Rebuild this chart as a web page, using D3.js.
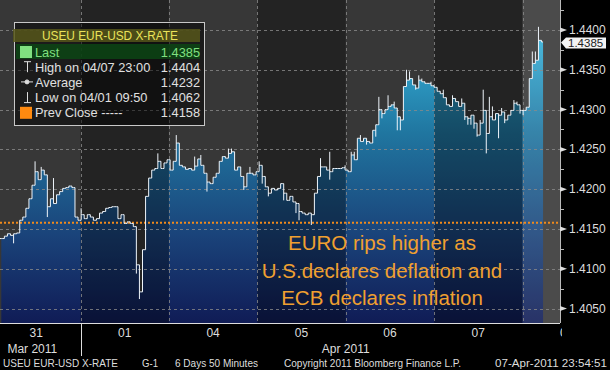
<!DOCTYPE html>
<html>
<head>
<meta charset="utf-8">
<script src="https://cdn.jsdelivr.net/npm/d3@7"></script>
<style>
  body { margin: 0; background: #000; }
  svg { display: block; font-family: "Liberation Sans", Arial, sans-serif; }
</style>
</head>
<body>
<div id="chart"></div>
<script>
// EUR-USD 50 minute bars, closes
const closes = [
  1.4138, 1.4141, 1.4144, 1.4142, 1.4144, 1.4145, 1.4161, 1.4165, 1.4176, 1.4188,
  1.4205, 1.4222, 1.4212, 1.4224, 1.4218, 1.4178, 1.4188, 1.4182, 1.4193, 1.4197,
  1.4201, 1.4202, 1.4204, 1.4202, 1.4165, 1.4161, 1.4168, 1.4163, 1.4168, 1.4165,
  1.4161, 1.4163, 1.4170, 1.4172, 1.4176, 1.4177,
  1.4178, 1.4178, 1.4163, 1.4168, 1.4157, 1.4159, 1.4157, 1.4153, 1.4105, 1.4071,
  1.4124, 1.4191, 1.4214, 1.4224, 1.4226, 1.4235, 1.4226, 1.4233, 1.4237, 1.4224,
  1.4235, 1.4258, 1.4230, 1.4228, 1.4225, 1.4226, 1.4224, 1.4229, 1.4238, 1.4230,
  1.4220, 1.4209, 1.4207, 1.4215, 1.4220, 1.4235,
  1.4241, 1.4239, 1.4245, 1.4247, 1.4224, 1.4228, 1.4216, 1.4203, 1.4220, 1.4220,
  1.4218, 1.4222, 1.4230, 1.4216, 1.4203, 1.4195, 1.4201, 1.4199, 1.4201, 1.4207,
  1.4195, 1.4186, 1.4191, 1.4184, 1.4182, 1.4172, 1.4170, 1.4168, 1.4170, 1.4168,
  1.4195, 1.4216, 1.4228, 1.4228, 1.4224,
  1.4222, 1.4226, 1.4226, 1.4226, 1.4227, 1.4224, 1.4222, 1.4243, 1.4237, 1.4264,
  1.4260, 1.4264, 1.4260, 1.4258, 1.4274, 1.4281, 1.4300, 1.4295, 1.4300, 1.4304,
  1.4306, 1.4302, 1.4291, 1.4287, 1.4329, 1.4337, 1.4339, 1.4331, 1.4327, 1.4337,
  1.4335, 1.4333, 1.4333, 1.4330, 1.4328, 1.4323, 1.4320,
  1.4315, 1.4306, 1.4304, 1.4314, 1.4310, 1.4304, 1.4308, 1.4291, 1.4289, 1.4293,
  1.4283, 1.4268, 1.4283, 1.4299, 1.4270, 1.4291, 1.4287, 1.4295, 1.4293, 1.4297,
  1.4287, 1.4293, 1.4299, 1.4308, 1.4306, 1.4299, 1.4299, 1.4303, 1.4339, 1.4358,
  1.4362, 1.4387, 1.4385
];

// [bar, high, low] where the bar's range goes past its open/close
const spikes = [
  [4, null, 1.4132], [11, 1.4235, null], [13, 1.4228, null], [15, null, 1.4165],
  [17, 1.4214, null], [26, 1.4176, null], [44, null, 1.4094], [45, null, 1.4062],
  [51, 1.4245, null], [57, 1.4268, null], [63, 1.4241, null], [65, 1.4243, null],
  [67, null, 1.4197], [74, 1.4251, null], [75, 1.4251, null], [79, null, 1.4199],
  [81, 1.4228, null], [84, 1.4235, null], [85, null, 1.4207], [87, null, 1.4191],
  [92, null, 1.4186], [96, null, 1.4170], [97, null, 1.4161], [101, null, 1.4155],
  [104, 1.4239, null], [107, 1.4247, 1.4212], [112, 1.4230, null], [114, 1.4247, null],
  [115, 1.4247, null], [117, 1.4268, null], [119, null, 1.4256], [122, null, 1.4266],
  [123, 1.4316, null], [124, null, 1.4289], [126, 1.4318, null], [128, 1.4310, null],
  [129, null, 1.4274], [130, null, 1.4274], [132, 1.4350, null], [133, 1.4348, null],
  [135, null, 1.4325], [136, 1.4343, null], [137, 1.4339, null], [140, 1.4335, null],
  [144, 1.4325, null], [147, 1.4318, null], [150, 1.4314, null], [151, null, 1.4287],
  [152, null, 1.4281], [153, null, 1.4281], [154, null, 1.4276], [155, null, 1.4266],
  [156, 1.4287, null], [157, 1.4325, null], [158, null, 1.4245], [159, 1.4316, null],
  [160, 1.4304, null], [162, null, 1.4264], [163, 1.4302, null], [164, null, 1.4283],
  [167, 1.4312, null], [168, 1.4310, null], [169, null, 1.4295], [170, null, 1.4293],
  [173, 1.4373, null], [174, 1.4373, null], [175, 1.4404, null]
];

const days = ['31', '01', '04', '05', '06', '07', '08'];
const months = [
  { label: 'Mar 2011', first: 0, last: 0 },
  { label: 'Apr 2011', first: 1, last: 6 }
];
const majorTicks = [1.405, 1.41, 1.415, 1.42, 1.425, 1.43, 1.435, 1.44];
const minorTicks = [1.4075, 1.4125, 1.4175, 1.4225, 1.4275, 1.4325, 1.4375, 1.4425];
const prevClose = 1.4158;
const lastPrice = 1.4385;

const legendTitle = 'USEU  EUR-USD X-RATE';
const legendLabels = ['Last', 'High on 04/07 23:00', 'Average', 'Low on 04/01 09:50', 'Prev Close -----'];
const legendValues = ['1.4385', '1.4404', '1.4232', '1.4062', '1.4158'];

// footer pieces: left edge and width of each run of text
const footer = [
  { text: 'USEU  EUR-USD X-RATE', x: 3, w: 115 },
  { text: 'G-1', x: 142, w: 16 },
  { text: '6 Days  50 Minutes', x: 175, w: 83 },
  { text: 'Copyright 2011 Bloomberg Finance L.P.', x: 284, w: 177 },
  { text: '07-Apr-2011 23:54:51', x: 495, w: 112 }
];
const note = ['EURO rips higher as', 'U.S.declares deflation and', 'ECB declares inflation'];

const barStart = 2.5;      // hours into the first day
const barHours = 50 / 60;

const W = 610, H = 370;
const plotW = 560, plotH = 323;

const svg = d3.select('#chart')
  .append('svg')
  .attr('width', W)
  .attr('height', H);

svg.append('rect').attr('width', W).attr('height', H).attr('fill', '#000');

const x = d3.scaleLinear().domain([0, days.length * 24]).range([-7.9, -7.9 + days.length * 88.4]);
const y = d3.scaleLinear().domain([1.405, 1.44]).range([308.6, 30]);

const defs = svg.append('defs');
defs.append('clipPath').attr('id', 'plot')
  .append('rect').attr('width', plotW).attr('height', plotH);
defs.append('clipPath').attr('id', 'xlab')
  .append('rect').attr('width', 562).attr('height', H);

const grad = defs.append('linearGradient')
  .attr('id', 'fill')
  .attr('gradientUnits', 'userSpaceOnUse')
  .attr('x1', 0).attr('x2', 0)
  .attr('y1', 30).attr('y2', plotH);
grad.append('stop').attr('offset', 0).attr('stop-color', '#36b4dc');
grad.append('stop').attr('offset', 0.35).attr('stop-color', '#2076a0');
grad.append('stop').attr('offset', 0.7).attr('stop-color', '#1a437a');
grad.append('stop').attr('offset', 1).attr('stop-color', '#101c56');

const g = svg.append('g').attr('clip-path', 'url(#plot)');

// background
g.append('rect').attr('width', plotW).attr('height', plotH).attr('fill', '#373737');

// bars
const spikeMap = new Map(spikes.map((s) => [s[0], s]));
const bars = closes.map((c, i) => {
  const open = i > 0 ? closes[i - 1] : c;
  const s = spikeMap.get(i);
  return {
    t: barStart + i * barHours,
    open: open,
    close: c,
    high: Math.max(open, c, s && s[1] ? s[1] : 0),
    low: Math.min(open, c, s && s[2] ? s[2] : 9)
  };
});

const area = d3.area()
  .x((d) => x(d.t))
  .y0(plotH)
  .y1((d) => y(d.close))
  .curve(d3.curveStepAfter);

const areaData = bars.concat([{ t: bars[bars.length - 1].t + barHours / 2, close: lastPrice }]);

g.append('path')
  .datum(areaData)
  .attr('d', area)
  .attr('fill', 'url(#fill)');

// day shading
g.selectAll('.shade')
  .data(days)
  .enter()
  .append('rect')
  .attr('x', (d, i) => x(i * 24))
  .attr('width', x(24) - x(0))
  .attr('y', 0)
  .attr('height', plotH)
  .attr('fill', (d, i) => i === 6 ? '#fff' : '#000')
  .attr('opacity', (d, i) => i === 6 ? 0.1 : (i % 2 ? 0.36 : 0));

// grid
g.selectAll('.hgrid')
  .data(majorTicks)
  .enter()
  .append('line')
  .attr('x1', 0).attr('x2', plotW)
  .attr('y1', (d) => Math.round(y(d)) + 0.5)
  .attr('y2', (d) => Math.round(y(d)) + 0.5)
  .attr('stroke', '#8a8a8a')
  .attr('stroke-opacity', 0.8)
  .attr('stroke-dasharray', '3,3');

g.selectAll('.vgrid')
  .data(d3.range(1, days.length))
  .enter()
  .append('line')
  .attr('x1', (d) => Math.round(x(d * 24)) + 0.5)
  .attr('x2', (d) => Math.round(x(d * 24)) + 0.5)
  .attr('y1', 0).attr('y2', plotH)
  .attr('stroke', '#8a8a8a')
  .attr('stroke-opacity', 0.8)
  .attr('stroke-dasharray', '3,3');

// previous close
g.append('line')
  .attr('x1', 0).attr('x2', plotW)
  .attr('y1', y(prevClose)).attr('y2', y(prevClose))
  .attr('stroke', '#f08a1c')
  .attr('stroke-width', 2)
  .attr('stroke-dasharray', '2,2');

g.append('path')
  .attr('d', bars.map((d) => {
    const cx = x(d.t);
    return 'M' + (cx - 1.5) + ',' + y(d.open) + 'H' + cx +
      'M' + cx + ',' + y(d.high) + 'V' + y(d.low) +
      'M' + cx + ',' + y(d.close) + 'H' + (cx + 1.5);
  }).join(''))
  .attr('fill', 'none')
  .attr('stroke', '#eef4fa')
  .attr('stroke-width', 1);

// annotation
g.selectAll('.note')
  .data(note)
  .enter()
  .append('text')
  .attr('x', 382)
  .attr('y', (d, i) => 250 + i * 27.5)
  .attr('text-anchor', 'middle')
  .attr('font-size', '20.5px')
  .attr('fill', '#f0a030')
  .text((d) => d);

// right axis
const axisG = svg.append('g').attr('transform', 'translate(' + plotW + ',0)');
axisG.append('line')
  .attr('x1', 0.5).attr('x2', 0.5)
  .attr('y1', 0).attr('y2', plotH)
  .attr('stroke', '#bbb');

axisG.selectAll('.minor')
  .data(minorTicks)
  .enter()
  .append('line')
  .attr('x1', 0).attr('x2', 4)
  .attr('y1', (d) => Math.round(y(d)) + 0.5)
  .attr('y2', (d) => Math.round(y(d)) + 0.5)
  .attr('stroke', '#bbb');

axisG.selectAll('.major')
  .data(majorTicks)
  .enter()
  .append('path')
  .attr('d', (d) => 'M0,' + (y(d) - 2.5) + 'L7,' + y(d) + 'L0,' + (y(d) + 2.5) + 'Z')
  .attr('fill', '#ddd');

axisG.selectAll('.ylab')
  .data(majorTicks)
  .enter()
  .append('text')
  .attr('x', 9)
  .attr('y', (d) => y(d) + 4)
  .attr('font-size', '12px')
  .attr('fill', '#ddd')
  .text((d) => d3.format('.4f')(d));

// last price tag
const ly = y(lastPrice);
axisG.append('path')
  .attr('d', 'M1,' + (ly + 0.5) + 'L6,' + (ly - 4.5) + 'H46V' + (ly + 6.5) + 'H6Z')
  .attr('fill', '#f4f4f4');
axisG.append('text')
  .attr('x', 8)
  .attr('y', ly + 5)
  .attr('font-size', '11.5px')
  .attr('fill', '#222')
  .text(d3.format('.4f')(lastPrice));

// bottom axis
svg.append('line')
  .attr('x1', 0).attr('x2', plotW)
  .attr('y1', plotH + 0.5).attr('y2', plotH + 0.5)
  .attr('stroke', '#ddd');

svg.append('g')
  .attr('clip-path', 'url(#xlab)')
  .selectAll('text')
  .data(days)
  .enter()
  .append('text')
  .attr('x', (d, i) => x(i * 24 + 12))
  .attr('y', 337)
  .attr('text-anchor', 'middle')
  .attr('font-size', '12px')
  .attr('fill', '#ddd')
  .text((d) => d);

svg.selectAll('.month')
  .data(months)
  .enter()
  .append('text')
  .attr('x', (d) => (x(d.first * 24 + 12) + x(d.last * 24 + 12)) / 2 - (d.first === 0 ? 4 : 0))
  .attr('y', 353)
  .attr('text-anchor', 'middle')
  .attr('font-size', '12px')
  .attr('fill', '#ddd')
  .text((d) => d.label);

svg.append('line')
  .attr('x1', Math.round(x(24)) + 0.5).attr('x2', Math.round(x(24)) + 0.5)
  .attr('y1', plotH).attr('y2', 356)
  .attr('stroke', '#ddd');

// footer
svg.selectAll('.foot')
  .data(footer)
  .enter()
  .append('text')
  .attr('x', (d) => d.x)
  .attr('y', 367)
  .attr('font-size', '11px')
  .attr('textLength', (d) => d.w)
  .attr('lengthAdjust', 'spacingAndGlyphs')
  .attr('fill', '#ddd')
  .text((d) => d.text);

// legend
const lg = svg.append('g');
lg.append('rect')
  .attr('x', 14.5).attr('y', 22.5)
  .attr('width', 190).attr('height', 103)
  .attr('fill', '#000')
  .attr('fill-opacity', 0.5)
  .attr('stroke', '#c8c8c8');

lg.append('rect')
  .attr('x', 13).attr('y', 29)
  .attr('width', 187).attr('height', 13)
  .attr('fill', '#56561a')
  .attr('fill-opacity', 0.85);

lg.append('text')
  .attr('x', 42)
  .attr('y', 40)
  .attr('font-size', '12px')
  .attr('textLength', 136)
  .attr('lengthAdjust', 'spacingAndGlyphs')
  .attr('fill', '#eae35a')
  .text(legendTitle);

lg.append('rect')
  .attr('x', 16).attr('y', 44)
  .attr('width', 184).attr('height', 15)
  .attr('fill', '#0c4514')
  .attr('fill-opacity', 0.85);

const rowY = (i) => 52 + i * 15.2;

lg.append('rect')
  .attr('x', 20).attr('y', rowY(0) - 6)
  .attr('width', 12).attr('height', 12)
  .attr('fill', '#80e080');
lg.append('rect')
  .attr('x', 20).attr('y', rowY(4) - 6)
  .attr('width', 12).attr('height', 12)
  .attr('fill', '#ff8a10');

const icon = lg.append('g').attr('stroke', '#ddd').attr('fill', 'none');
icon.append('path').attr('d', 'M24,' + (rowY(1) - 5.5) + 'H31M27.5,' + (rowY(1) - 5.5) + 'V' + (rowY(1) + 5));
icon.append('path').attr('d', 'M21,' + (rowY(2) - 0.5) + 'H33');
icon.append('circle').attr('cx', 27).attr('cy', rowY(2) - 0.5).attr('r', 2).attr('fill', '#ddd');
icon.append('path').attr('d', 'M27.5,' + (rowY(3) - 5.5) + 'V' + (rowY(3) + 5) + 'M24,' + (rowY(3) + 5) + 'H31');

lg.selectAll('.lab')
  .data(legendLabels)
  .enter()
  .append('text')
  .attr('x', 35)
  .attr('y', (d, i) => rowY(i) + 4.5)
  .attr('font-size', '12.8px')
  .attr('fill', (d, i) => i === 0 ? '#80e080' : '#e0e0e0')
  .text((d) => d);

lg.selectAll('.val')
  .data(legendValues)
  .enter()
  .append('text')
  .attr('x', 200)
  .attr('y', (d, i) => rowY(i) + 4.5)
  .attr('text-anchor', 'end')
  .attr('font-size', '12.8px')
  .attr('fill', (d, i) => i === 0 ? '#80e080' : '#e0e0e0')
  .text((d) => d);
</script>
</body>
</html>
